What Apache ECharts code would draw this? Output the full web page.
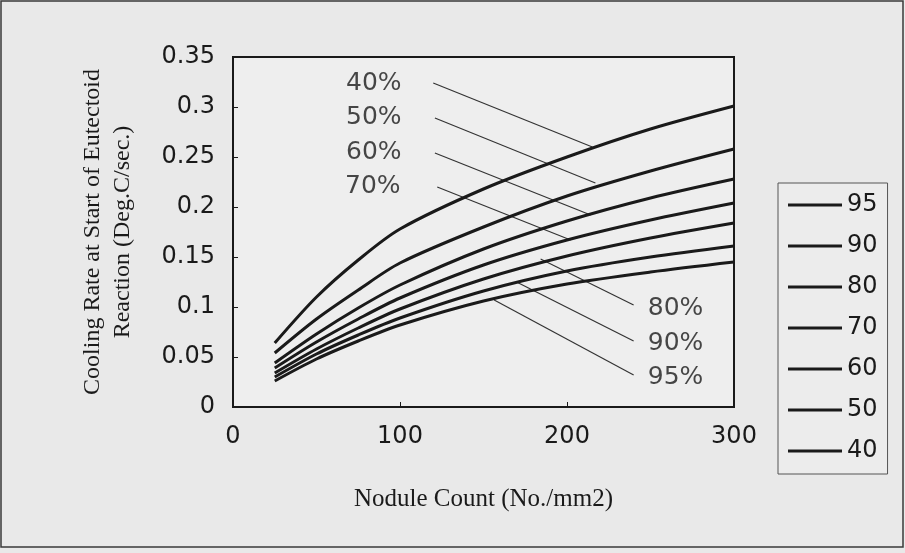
<!DOCTYPE html>
<html>
<head>
<meta charset="utf-8">
<script src="https://cdn.jsdelivr.net/npm/echarts@6/dist/echarts.min.js"></script>
<style>
html,body{margin:0;padding:0;background:#e9e9e9;}
#chart{width:905px;height:553px;}
</style>
</head>
<body>
<div id="chart"></div>
<script>
// ---- data ----
const nodules = [25, 50, 75, 100, 150, 200, 250, 300];
const curve40 = [0.064, 0.110, 0.147, 0.178, 0.218, 0.250, 0.278, 0.301];
const curve50 = [0.054, 0.088, 0.117, 0.144, 0.180, 0.211, 0.236, 0.258];
const curve60 = [0.044, 0.073, 0.099, 0.122, 0.158, 0.186, 0.209, 0.228];
const curve70 = [0.039, 0.065, 0.088, 0.109, 0.142, 0.167, 0.187, 0.204];
const curve80 = [0.034, 0.058, 0.079, 0.098, 0.128, 0.151, 0.169, 0.184];
const curve90 = [0.030, 0.053, 0.072, 0.089, 0.116, 0.136, 0.150, 0.161];
const curve95 = [0.026, 0.048, 0.066, 0.082, 0.106, 0.123, 0.135, 0.145];
const seriesNames = ['95', '90', '80', '70', '60', '50', '40'];
const seriesValues = [curve95, curve90, curve80, curve70, curve60, curve50, curve40];
const yTickLabels = ['0', '0.05', '0.1', '0.15', '0.2', '0.25', '0.3', '0.35'];
const xTickLabels = ['0', '100', '200', '300'];
// leader lines (data space) and their labels
const leaderText = ['40%', '50%', '60%', '70%', '80%', '90%', '95%'];
const leaderFrom = [[119.9, 0.324], [120.9, 0.289], [120.9, 0.254], [122.3, 0.220], [184.2, 0.148], [169.8, 0.125], [156.4, 0.107]];
const leaderTo = [[215.2, 0.260], [217.0, 0.224], [214.2, 0.192], [202.2, 0.167], [239.9, 0.102], [239.9, 0.066], [239.9, 0.032]];
const labelPos = [[84.3, 0.324], [84.3, 0.290], [84.3, 0.255], [83.7, 0.221], [265, 0.099], [265, 0.064], [265, 0.030]];

// ---- chart ----
const chart = echarts.init(document.getElementById('chart'));
const sansFont = "'DejaVu Sans', 'Noto Sans', sans-serif";
const serifFont = "'Liberation Serif', 'DejaVu Serif', serif";
const ink = '#1a1a1a';

const series = [];
seriesNames.forEach((n, i) => {
  series.push({
    name: n, type: 'line', smooth: 0.3, showSymbol: false, symbol: 'none',
    data: nodules.map((x, j) => [x, seriesValues[i][j]]),
    lineStyle: { width: 3, color: ink }, itemStyle: { color: ink },
    z: 3
  });
});
leaderText.forEach((t, i) => {
  series.push({
    name: 'leader' + t, type: 'line', symbol: 'none', silent: true,
    data: [leaderFrom[i], leaderTo[i]],
    lineStyle: { width: 1.2, color: '#333' }, z: 2
  });
});
series.push({
  name: 'labels', type: 'scatter', symbolSize: 0, silent: true,
  data: labelPos.map((p, i) => [p[0], p[1], leaderText[i]]),
  label: {
    show: true, position: 'inside', formatter: p => p.data[2],
    fontFamily: sansFont, fontSize: 25, color: ink
  }
});

chart.setOption({
  animation: false,
  backgroundColor: '#e9e9e9',
  graphic: [{
    type: 'rect', shape: { x: 1, y: 1, width: 902, height: 546 },
    style: { fill: 'none', stroke: '#3a3a3a', lineWidth: 1.5 }, silent: true
  }],
  grid: {
    left: 233, right: 171, top: 57, bottom: 146,
    show: true, borderColor: ink, borderWidth: 2, backgroundColor: '#eeeeee'
  },
  legend: {
    orient: 'vertical', left: 778, top: 183,
    data: seriesNames,
    icon: 'rect', itemWidth: 54, itemHeight: 3, itemGap: 17,
    padding: [10, 10, 11, 10],
    borderColor: '#555', borderWidth: 1, backgroundColor: '#ececec',
    textStyle: { fontFamily: sansFont, fontSize: 24, color: ink },
    selectedMode: false
  },
  xAxis: {
    type: 'value', min: 0, max: 300, interval: 100,
    name: 'Nodule Count (No./mm2)', nameLocation: 'middle', nameGap: 80,
    nameTextStyle: { fontFamily: serifFont, fontSize: 25, color: ink },
    axisLine: { show: true, lineStyle: { color: ink, width: 2 } },
    axisTick: { show: true, inside: true, length: 5, lineStyle: { color: ink } },
    splitLine: { show: false },
    axisLabel: {
      margin: 18, fontFamily: sansFont, fontSize: 24, color: ink,
      formatter: v => xTickLabels[Math.round(v / 100)]
    }
  },
  yAxis: {
    type: 'value', min: 0, max: 0.35, interval: 0.05,
    name: 'Cooling Rate at Start of Eutectoid\nReaction (Deg.C/sec.)',
    nameLocation: 'middle', nameGap: 95, nameRotate: 90,
    nameTextStyle: { fontFamily: serifFont, fontSize: 24, color: ink, lineHeight: 30 },
    axisLine: { show: true, lineStyle: { color: ink, width: 2 } },
    axisTick: { show: true, inside: true, length: 5, lineStyle: { color: ink } },
    splitLine: { show: false },
    axisLabel: {
      margin: 18, fontFamily: sansFont, fontSize: 24, color: ink,
      formatter: v => yTickLabels[Math.round(v / 0.05)]
    }
  },
  series: series
});
</script>
</body>
</html>
